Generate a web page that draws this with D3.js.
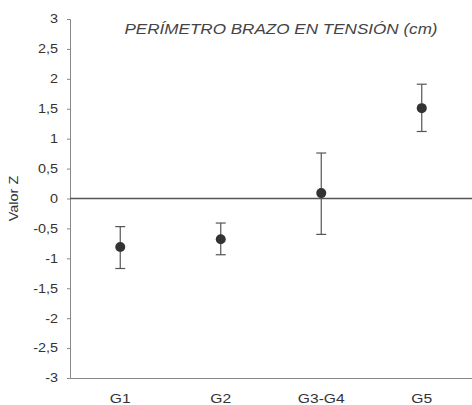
<!DOCTYPE html>
<html>
<head>
<meta charset="utf-8">
<script src="https://cdn.jsdelivr.net/npm/d3@7"></script>
<style>
  html, body { margin: 0; padding: 0; background: #fff; }
  svg { display: block; }
  text { font-family: "Liberation Sans", Arial, sans-serif; fill: #333; }
</style>
</head>
<body>
<svg id="chart" width="472" height="405"></svg>
<script>
// Groups and their mean Z-score with lower/upper error limits
const groups = ["G1", "G2", "G3-G4", "G5"];
const means = [-0.81, -0.68, 0.09, 1.51];
const lower = [-1.17, -0.94, -0.60, 1.12];
const upper = [-0.47, -0.41, 0.76, 1.91];
const yTicks = [3, 2.5, 2, 1.5, 1, 0.5, 0, -0.5, -1, -1.5, -2, -2.5, -3];
const title = "PERÍMETRO BRAZO EN TENSIÓN (cm)";
const yLabel = "Valor Z";

const data = groups.map((g, i) => ({ g, m: means[i], lo: lower[i], hi: upper[i] }));

const svg = d3.select("#chart");
const plotLeft = 70, plotRight = 472, plotTop = 19, plotBottom = 378;

const x = d3.scaleBand().domain(groups).range([plotLeft, plotRight]);
const y = d3.scaleLinear().domain([-3, 3]).range([plotBottom, plotTop]);

const fmt = d => String(d).replace(".", ",");

// Widen glyphs horizontally (the typeface used is a wide grotesque)
function widen(sel, k) {
  sel.each(function () {
    const w = this.getComputedTextLength();
    d3.select(this).attr("textLength", w * k).attr("lengthAdjust", "spacingAndGlyphs");
  });
}

// Y axis
const yAxis = svg.append("g")
  .attr("transform", `translate(${plotLeft},0)`)
  .call(d3.axisLeft(y).tickValues(yTicks).tickFormat(fmt).tickSize(3).tickPadding(9));
yAxis.select(".domain").attr("stroke", "#888");
yAxis.selectAll(".tick line").attr("stroke", "#888");
yAxis.selectAll(".tick text").attr("font-size", 12).style("fill", "#333").call(widen, 1.2);

// X axis along the bottom (-3)
const xAxis = svg.append("g")
  .attr("transform", `translate(0,${plotBottom})`)
  .call(d3.axisBottom(x).tickSize(0).tickPadding(16));
xAxis.select(".domain").attr("stroke", "#888");
xAxis.selectAll(".tick text").attr("font-size", 12.5).style("fill", "#333").call(widen, 1.25);

// Zero reference line
svg.append("line")
  .attr("x1", plotLeft).attr("x2", plotRight)
  .attr("y1", y(0)).attr("y2", y(0))
  .attr("stroke", "#555").attr("stroke-width", 1.6);

// Error bars
const cap = 5;
const eb = svg.append("g").attr("stroke", "#555").attr("stroke-width", 1.2);
data.forEach(d => {
  const cx = x(d.g) + x.bandwidth() / 2;
  eb.append("line").attr("x1", cx).attr("x2", cx).attr("y1", y(d.hi)).attr("y2", y(d.lo));
  eb.append("line").attr("x1", cx - cap).attr("x2", cx + cap).attr("y1", y(d.hi)).attr("y2", y(d.hi));
  eb.append("line").attr("x1", cx - cap).attr("x2", cx + cap).attr("y1", y(d.lo)).attr("y2", y(d.lo));
});

// Mean points
svg.append("g").selectAll("circle").data(data).join("circle")
  .attr("cx", d => x(d.g) + x.bandwidth() / 2)
  .attr("cy", d => y(d.m))
  .attr("r", 5)
  .attr("fill", "#333");

// Title
svg.append("text")
  .attr("x", 281).attr("y", 34)
  .attr("text-anchor", "middle")
  .attr("font-size", 14).attr("font-style", "italic")
  .style("fill", "#444")
  .text(title)
  .call(widen, 1.22);

// Y label
svg.append("text")
  .attr("transform", `translate(18,${y(0)}) rotate(-90)`)
  .attr("text-anchor", "middle")
  .attr("font-size", 12)
  .text(yLabel)
  .call(widen, 1.2);
</script>
</body>
</html>
